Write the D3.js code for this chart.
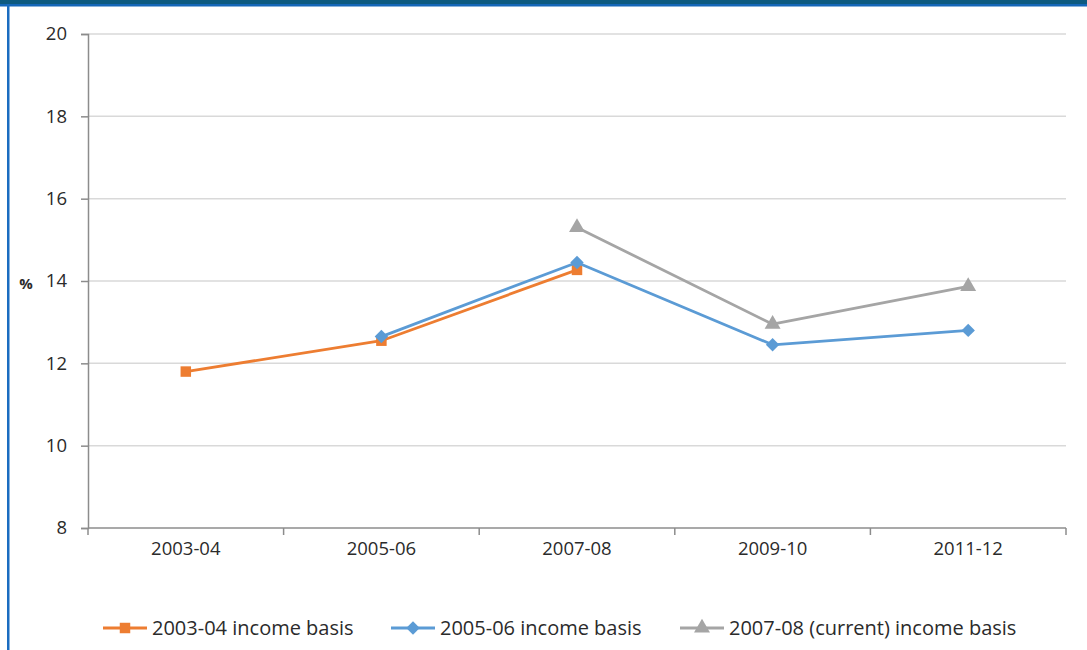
<!DOCTYPE html>
<html>
<head>
<meta charset="utf-8">
<script src="https://cdn.jsdelivr.net/npm/d3@7"></script>
<style>
  html, body { margin: 0; padding: 0; background: #fff; }
  svg { display: block; }
  text { font-family: "Open Sans", "Noto Sans", sans-serif; fill: #2b2b2b; }
</style>
</head>
<body>
<svg id="chart" width="1087" height="650"></svg>
<script>
// Survey years on the horizontal axis
const years = ["2003-04", "2005-06", "2007-08", "2009-10", "2011-12"];
// Rate (%) under each income basis; null where the basis does not apply
const basis2003 = [11.8, 12.55, 14.27, null, null];
const basis2005 = [null, 12.65, 14.45, 12.45, 12.8];
const basis2007 = [null, null, 15.3, 12.95, 13.87];
const yTicks = [8, 10, 12, 14, 16, 18, 20];
const seriesNames = ["2003-04 income basis", "2005-06 income basis", "2007-08 (current) income basis"];

// A diamond drawn as a square turned by 45 degrees
const symbolRotSquare = {
  draw(ctx, size) {
    const r = Math.sqrt(size) / Math.SQRT2;
    ctx.moveTo(0, -r); ctx.lineTo(r, 0); ctx.lineTo(0, r); ctx.lineTo(-r, 0); ctx.closePath();
  }
};

const series = [
  { name: seriesNames[0], values: basis2003, color: "#ed7d31", symbol: d3.symbolSquare, size: 110 },
  { name: seriesNames[1], values: basis2005, color: "#5b9bd5", symbol: symbolRotSquare, size: 90 },
  { name: seriesNames[2], values: basis2007, color: "#a5a5a5", symbol: d3.symbolTriangle, size: 110 }
];

const svg = d3.select("#chart");
const W = 1087, H = 650;
const m = { left: 88, right: 21, top: 34, bottom: 122 };

// Frame: top band and left rule
svg.append("rect").attr("x", 0).attr("y", 0).attr("width", W).attr("height", 4).attr("fill", "#0d5a80");
svg.append("rect").attr("x", 0).attr("y", 4).attr("width", W).attr("height", 2.5).attr("fill", "#1467b8");
svg.append("rect").attr("x", 7).attr("y", 4).attr("width", 2.5).attr("height", H).attr("fill", "#1a6cc0");

const x = d3.scaleBand().domain(years).range([m.left, W - m.right]);
const y = d3.scaleLinear().domain([8, 20]).range([H - m.bottom, m.top]);

// Horizontal gridlines
svg.append("g")
  .selectAll("line")
  .data(yTicks.filter(t => t > 8))
  .join("line")
  .attr("x1", m.left).attr("x2", W - m.right)
  .attr("y1", d => y(d)).attr("y2", d => y(d))
  .attr("stroke", "#d9d9d9").attr("stroke-width", 1.5);

// Y axis
const yAxis = svg.append("g")
  .attr("transform", `translate(${m.left},0)`)
  .call(d3.axisLeft(y).tickValues(yTicks).tickSize(7).tickPadding(14));
yAxis.select(".domain").attr("stroke", "#8c8c8c").attr("stroke-width", 1.5);
yAxis.selectAll(".tick line").attr("stroke", "#8c8c8c").attr("stroke-width", 1.5);
yAxis.selectAll(".tick text").attr("font-size", 18.5).attr("fill", "#2b2b2b")
  .style("font-family", '"Open Sans", sans-serif');

// X axis with ticks on category boundaries
const xAxisY = y(8);
const xg = svg.append("g").attr("transform", `translate(0,${xAxisY})`);
xg.append("line").attr("x1", m.left).attr("x2", W - m.right)
  .attr("stroke", "#8c8c8c").attr("stroke-width", 1.5);
const bounds = years.map(d => x(d)).concat([x(years[years.length - 1]) + x.bandwidth()]);
xg.selectAll(".bt").data(bounds).join("line")
  .attr("x1", d => d).attr("x2", d => d).attr("y1", 0).attr("y2", 7)
  .attr("stroke", "#8c8c8c").attr("stroke-width", 1.5);
xg.selectAll(".xl").data(years).join("text")
  .attr("x", d => x(d) + x.bandwidth() / 2)
  .attr("y", 27)
  .attr("text-anchor", "middle")
  .attr("font-size", 18.5)
  .text(d => d);

// Axis title
svg.append("text").attr("x", 26).attr("y", 289).attr("text-anchor", "middle")
  .attr("font-size", 15).attr("font-weight", "bold").text("%");

// Series lines and markers
const cx = d => x(d) + x.bandwidth() / 2;
series.forEach(s => {
  const pts = years.map((yr, i) => ({ yr, v: s.values[i] })).filter(p => p.v != null);
  const line = d3.line().x(p => cx(p.yr)).y(p => y(p.v));
  svg.append("path").datum(pts).attr("d", line)
    .attr("fill", "none").attr("stroke", s.color).attr("stroke-width", 2.8)
    .attr("stroke-linejoin", "round");
  svg.append("g").selectAll("path").data(pts).join("path")
    .attr("transform", p => `translate(${cx(p.yr)},${y(p.v)})`)
    .attr("d", d3.symbol().type(s.symbol).size(s.size))
    .attr("fill", s.color);
});

// Legend
const legendX = [103, 391, 680];
const ly = 628;
series.forEach((s, i) => {
  const g = svg.append("g").attr("transform", `translate(${legendX[i]},${ly})`);
  g.append("line").attr("x1", 0).attr("x2", 44).attr("stroke", s.color).attr("stroke-width", 2.8);
  g.append("path").attr("transform", "translate(22,0)")
    .attr("d", d3.symbol().type(s.symbol).size(s.size)).attr("fill", s.color);
  g.append("text").attr("x", 49).attr("y", 7).attr("font-size", 20).text(s.name);
});
</script>
</body>
</html>
